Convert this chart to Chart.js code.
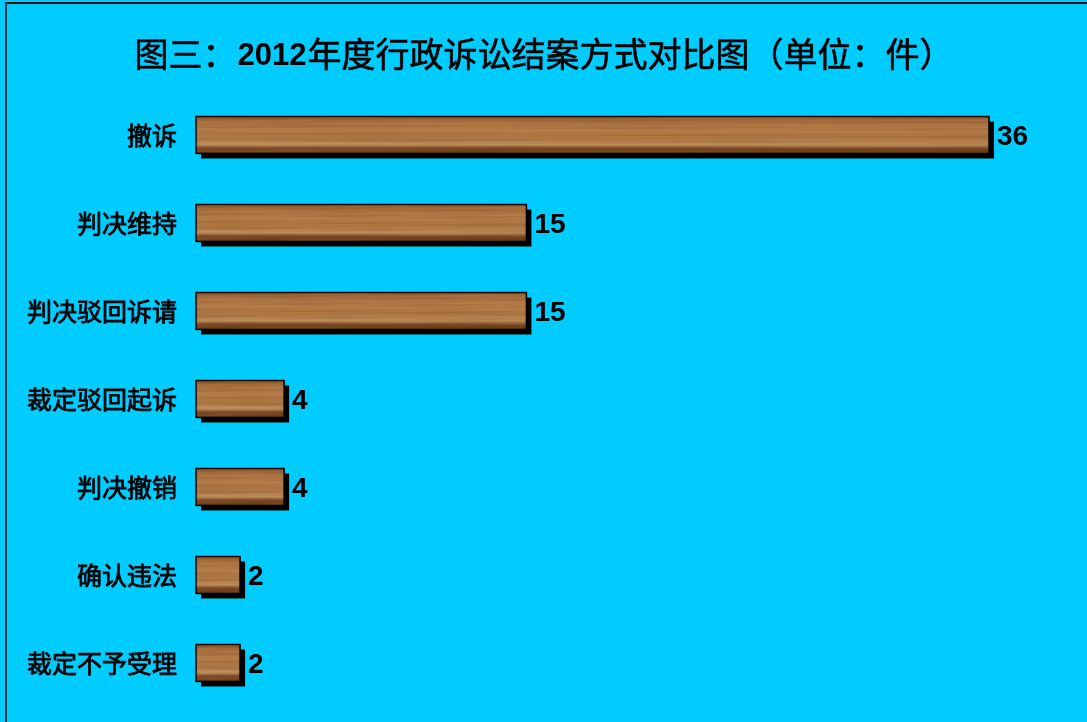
<!DOCTYPE html>
<html>
<head>
<meta charset="utf-8">
<script src="https://cdn.jsdelivr.net/npm/chart.js@4.4.0/dist/chart.umd.min.js"></script>
<style>
  html, body { margin: 0; padding: 0; background: #00CCFF; width: 1087px; height: 722px; overflow: hidden; }
  #wrap { position: absolute; left: 0; top: 0; width: 1087px; height: 722px; }
  #frame { position: absolute; left: 5px; top: 2px; width: 1100px; height: 740px; border-left: 2px solid #0B3A48; border-top: 2px solid #111; box-sizing: border-box; pointer-events: none; }
</style>
</head>
<body>
<div id="wrap"><canvas id="c" width="1087" height="722"></canvas></div>
<div id="frame"></div>
<script>
const categories = ['撤诉', '判决维持', '判决驳回诉请', '裁定驳回起诉', '判决撤销', '确认违法', '裁定不予受理'];
const values = [36, 15, 15, 4, 4, 2, 2];
const titleParts = [
  { text: '图三：', bold: false },
  { text: '2012', bold: true },
  { text: '年度行政诉讼结案方式对比图（单位：件）', bold: false }
];

const CJK = '"Noto Sans CJK SC", "Noto Sans", sans-serif';
const LAT = '"Liberation Sans", Arial, sans-serif';

// wood texture (deterministic)
function makeWood(h) {
  const c = document.createElement('canvas');
  c.width = 400; c.height = h;
  const g = c.getContext('2d');
  const grd = g.createLinearGradient(0, 0, 0, h);
  grd.addColorStop(0.00, '#8A552B');
  grd.addColorStop(0.10, '#A36B3A');
  grd.addColorStop(0.35, '#B27B48');
  grd.addColorStop(0.60, '#AA723F');
  grd.addColorStop(0.76, '#BE8E5E');
  grd.addColorStop(0.86, '#7A4620');
  grd.addColorStop(1.00, '#653A19');
  g.fillStyle = grd;
  g.fillRect(0, 0, c.width, h);
  for (let y = 0; y < h; y += 1) {
    for (let x = 0; x < c.width; x += 4) {
      const v = Math.sin(x * 0.031 + y * 1.7) * 0.5 + Math.sin(x * 0.011 - y * 0.9) * 0.5;
      if (v > 0.35) { g.fillStyle = 'rgba(215,165,115,' + ((v - 0.35) * 0.35).toFixed(3) + ')'; g.fillRect(x, y, 4, 1); }
      else if (v < -0.45) { g.fillStyle = 'rgba(90,50,20,' + ((-v - 0.45) * 0.4).toFixed(3) + ')'; g.fillRect(x, y, 4, 1); }
    }
  }
  return c;
}

function boldText(ctx, text, x, y, w) {
  ctx.fillText(text, x, y);
  ctx.lineWidth = w;
  ctx.strokeStyle = ctx.fillStyle;
  ctx.strokeText(text, x, y);
}

const woodPlugin = {
  id: 'wood',
  beforeDatasetsDraw(chart) {
    const ctx = chart.ctx;
    const meta = chart.getDatasetMeta(0);
    ctx.save();
    ctx.fillStyle = '#000';
    meta.data.forEach(bar => {
      const p = bar.getProps(['x', 'y', 'base', 'height'], true);
      const left = Math.min(p.base, p.x), w = Math.abs(p.x - p.base);
      ctx.fillRect(left + 5, p.y - p.height / 2 + 5, w, p.height);
    });
    ctx.restore();
  },
  afterDatasetsDraw(chart) {
    const ctx = chart.ctx;
    const meta = chart.getDatasetMeta(0);
    meta.data.forEach((bar, i) => {
      const p = bar.getProps(['x', 'y', 'base', 'height'], true);
      const left = Math.min(p.base, p.x), w = Math.abs(p.x - p.base);
      const top = p.y - p.height / 2;
      const tex = makeWood(Math.round(p.height));
      ctx.save();
      ctx.beginPath(); ctx.rect(left, top, w, p.height); ctx.clip();
      ctx.drawImage(tex, (i * 37) % 100, 0, Math.min(w, 300), tex.height, left, top, w, p.height);
      ctx.restore();
      ctx.save();
      ctx.strokeStyle = '#000'; ctx.lineWidth = 1.5;
      ctx.strokeRect(left, top, w, p.height);
      ctx.fillStyle = '#000';
      ctx.font = 'bold 28px ' + LAT;
      ctx.textAlign = 'left'; ctx.textBaseline = 'middle';
      ctx.fillText(String(values[i]), p.x + 8, p.y + 2);
      ctx.font = '25px ' + CJK;
      ctx.textAlign = 'right';
      boldText(ctx, categories[i], 177, p.y, 0.8);
      ctx.restore();
    });
  },
  afterDraw(chart) {
    const ctx = chart.ctx;
    ctx.save();
    ctx.fillStyle = '#000';
    const fonts = titleParts.map(t => (t.bold ? 'bold 31px ' + LAT : '34px ' + CJK));
    let total = 0;
    const widths = titleParts.map((t, k) => { ctx.font = fonts[k]; const w = ctx.measureText(t.text).width; total += w; return w; });
    let x = 543 - total / 2;
    titleParts.forEach((t, k) => {
      ctx.font = fonts[k];
      ctx.textAlign = 'left';
      if (t.bold) { ctx.textBaseline = 'alphabetic'; ctx.fillText(t.text, x + 1, 65); }
      else { ctx.textBaseline = 'middle'; boldText(ctx, t.text, x, 54, 0.6); }
      x += widths[k] + (t.bold ? 2 : 0);
    });
    ctx.restore();
  }
};

new Chart(document.getElementById('c'), {
  type: 'bar',
  data: {
    labels: categories,
    datasets: [{
      data: values,
      backgroundColor: 'rgba(0,0,0,0)',
      borderWidth: 0,
      barPercentage: 0.42,
      categoryPercentage: 1.0
    }]
  },
  options: {
    indexAxis: 'y',
    responsive: false,
    animation: false,
    devicePixelRatio: 1,
    layout: { padding: { left: 196, right: 98, top: 91, bottom: 15 } },
    plugins: { legend: { display: false }, tooltip: { enabled: false }, title: { display: false } },
    scales: {
      x: { display: false, min: 0, max: 36 },
      y: { display: false }
    }
  },
  plugins: [woodPlugin]
});
</script>
</body>
</html>
